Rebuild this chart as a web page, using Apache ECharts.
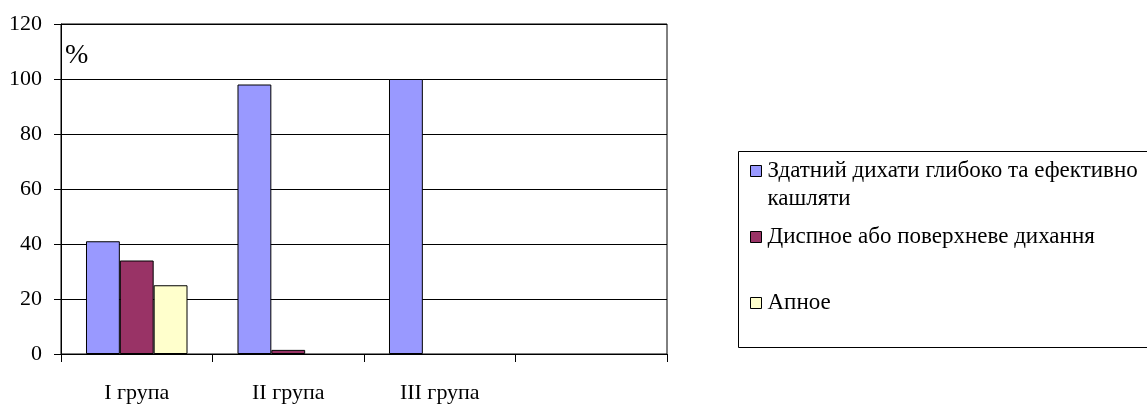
<!DOCTYPE html>
<html>
<head>
<meta charset="utf-8">
<script src="https://cdn.jsdelivr.net/npm/echarts@6/dist/echarts.min.js"></script>
<style>
  html, body { margin: 0; padding: 0; background: #fff; }
  #chart { width: 1147px; height: 406px; }
</style>
</head>
<body>
<div id="chart"></div>
<script>
// Groups on the category axis (the last slot is left empty)
const categories = ['I група', 'II група', 'III група', ''];

// Series names and values, %
const nameDeep = 'Здатний дихати глибоко та ефективно кашляти';
const nameDysp = 'Диспное або поверхневе дихання';
const nameApnea = 'Апное';
const deepValues = [41, 98, 100, null];
const dyspValues = [34, 1.5, 0, null];
const apneaValues = [25, 0, 0, null];

// Value axis ticks
const yMin = 0;
const yMax = 120;
const yStep = 20;

const FONT = "'Liberation Serif', 'Times New Roman', serif";

const chart = echarts.init(document.getElementById('chart'), null, { renderer: 'canvas' });

function legendFor(name, top, formatter) {
  return {
    data: [name],
    orient: 'vertical',
    left: 745,
    top: top,
    itemWidth: 11,
    itemHeight: 11,
    itemGap: 0,
    icon: 'rect',
    selectedMode: false,
    formatter: formatter,
    itemStyle: { borderColor: '#000', borderWidth: 1 },
    textStyle: { fontFamily: FONT, fontSize: 23, color: '#000', lineHeight: 28, padding: [0, 0, 0, 1] }
  };
}

// Zero-height bars get no outline, so they leave no stray line on the axis
function withOutline(values) {
  return values.map(v => ({
    value: v,
    itemStyle: { borderWidth: v ? 1 : 0 }
  }));
}

const barStyle = (color) => ({ color: color, borderColor: '#000', borderWidth: 1 });

chart.setOption({
  animation: false,
  backgroundColor: '#fff',
  textStyle: { fontFamily: FONT },
  grid: {
    left: 61, right: 480, top: 24, bottom: 52,
    show: true, borderColor: '#000', borderWidth: 1, backgroundColor: 'transparent'
  },
  graphic: [{
    type: 'rect',
    shape: { x: 738.5, y: 151.5, width: 480, height: 196 },
    style: { fill: 'none', stroke: '#000', lineWidth: 1 },
    silent: true
  }],
  legend: [
    legendFor(nameDeep, 124, () => '\nЗдатний дихати глибоко та ефективно\nкашляти'),
    legendFor(nameDysp, 218),
    legendFor(nameApnea, 284)
  ],
  xAxis: {
    type: 'category',
    data: categories,
    boundaryGap: true,
    axisLine: { lineStyle: { color: '#000', width: 1 } },
    axisTick: { show: true, length: 8, alignWithLabel: false, lineStyle: { color: '#000' } },
    axisLabel: { fontFamily: FONT, fontSize: 22, color: '#000', margin: 28, interval: 0 },
    splitLine: { show: false }
  },
  yAxis: {
    type: 'value',
    min: yMin, max: yMax, interval: yStep,
    name: '%',
    nameLocation: 'end',
    nameGap: -46,
    nameTextStyle: { fontFamily: FONT, fontSize: 28, color: '#000', align: 'left', padding: [0, 0, 0, 4] },
    axisLine: { show: true, lineStyle: { color: '#000', width: 1 } },
    axisTick: { show: true, length: 7, lineStyle: { color: '#000' } },
    axisLabel: { fontFamily: FONT, fontSize: 22, color: '#000', margin: 19 },
    splitLine: { show: true, lineStyle: { color: '#000', width: 1 } }
  },
  series: [
    { name: nameDeep, type: 'bar', data: withOutline(deepValues), barGap: '0%', barCategoryGap: '33%', itemStyle: barStyle('#9999FF') },
    { name: nameDysp, type: 'bar', data: withOutline(dyspValues), itemStyle: barStyle('#993366') },
    { name: nameApnea, type: 'bar', data: withOutline(apneaValues), itemStyle: barStyle('#FFFFCC') }
  ]
});
</script>
</body>
</html>
